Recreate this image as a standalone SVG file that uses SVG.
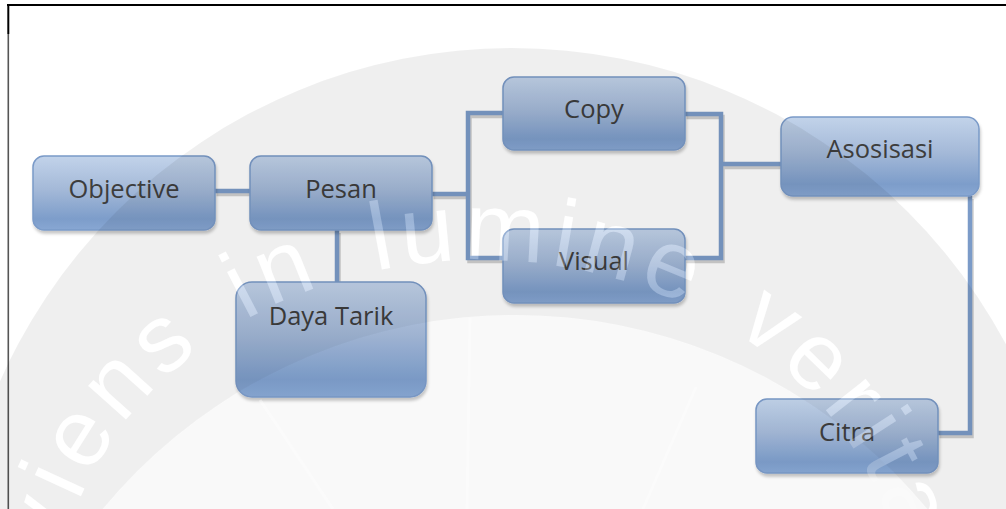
<svg xmlns="http://www.w3.org/2000/svg" xmlns:xlink="http://www.w3.org/1999/xlink" width="1006" height="509" viewBox="0 0 1006 509">
  <style>
    .box { fill: url(#boxFill); stroke: #7a9ac8; stroke-width: 1.5; filter: url(#boxShadow); }
    .label { font-family: "Open Sans", "Liberation Sans", sans-serif; font-size: 25.5px; fill: #3d3d3d; text-anchor: middle; }
    .wire { fill: none; stroke: #7b9bc8; stroke-width: 4.5; stroke-linejoin: miter; stroke-linecap: butt; }
    .wire-shadow { fill: none; stroke: #cfcfcf; stroke-width: 4.5; stroke-linejoin: miter; }
    .motto { font-family: "Liberation Sans", "DejaVu Sans", sans-serif; font-size: 96px; letter-spacing: 7px; }
  </style>
  <defs>
    <linearGradient id="boxFill" x1="0" y1="0" x2="0" y2="1">
      <stop offset="0" stop-color="#c2d3ea"/>
      <stop offset="0.45" stop-color="#a4b9d8"/>
      <stop offset="0.85" stop-color="#7d9dca"/>
      <stop offset="1" stop-color="#88a7d3"/>
    </linearGradient>
    <filter id="boxShadow" x="-10%" y="-10%" width="120%" height="130%">
      <feDropShadow dx="1" dy="3" stdDeviation="1.5" flood-color="#000" flood-opacity="0.22"/>
    </filter>
    <!-- baseline of the seal's motto -->
    <path id="mottoArc" d="M55,620 A425,360 0 0 1 905,620"/>
    <path id="w1" d="M215,191 H250"/>
    <path id="w2" d="M337,230 V282"/>
    <path id="w3" d="M432,194 H468 M503,113 H468 V258 H503"/>
    <path id="w4" d="M685,114 H721 V258 H685 M721,164 H781"/>
    <path id="w5" d="M970,196 V433 H938"/>
    <mask id="bandMask" maskUnits="userSpaceOnUse" x="0" y="0" width="1006" height="509">
      <rect width="1006" height="509" fill="#fff"/>
      <text class="motto" fill="#000">
        <textPath xlink:href="#mottoArc" startOffset="66">viens</textPath>
        <textPath xlink:href="#mottoArc" startOffset="372">in</textPath>
        <textPath xlink:href="#mottoArc" startOffset="512">lumine</textPath>
        <textPath xlink:href="#mottoArc" startOffset="884">veritas</textPath>
      </text>
    </mask>
  </defs>

  <rect width="1006" height="509" fill="#fff"/>

  <!-- page frame -->
  <g id="frame" fill="none">
    <line x1="7" y1="5" x2="1006" y2="5" stroke="#000" stroke-width="2"/>
    <line x1="8.3" y1="4" x2="8.3" y2="34" stroke="#000" stroke-width="2"/>
    <line x1="8.3" y1="34" x2="8.3" y2="509" stroke="#555" stroke-width="1.6"/>
  </g>

  <!-- connectors -->
  <g id="connectors">
    <g transform="translate(1.5,3)">
      <use xlink:href="#w1" class="wire-shadow"/>
      <use xlink:href="#w2" class="wire-shadow"/>
      <use xlink:href="#w3" class="wire-shadow"/>
      <use xlink:href="#w4" class="wire-shadow"/>
      <use xlink:href="#w5" class="wire-shadow"/>
    </g>
    <use xlink:href="#w1" class="wire"/>
    <use xlink:href="#w2" class="wire"/>
    <use xlink:href="#w3" class="wire"/>
    <use xlink:href="#w4" class="wire"/>
    <use xlink:href="#w5" class="wire"/>
  </g>

  <!-- nodes -->
  <g id="objective">
    <rect class="box" x="33" y="156" width="182" height="74" rx="11"/>
    <text class="label" x="124" y="198">Objective</text>
  </g>
  <g id="pesan">
    <rect class="box" x="250" y="156" width="182" height="74" rx="11"/>
    <text class="label" x="341" y="198">Pesan</text>
  </g>
  <g id="daya-tarik">
    <rect class="box" x="236" y="282" width="190" height="115" rx="16"/>
    <text class="label" x="331" y="325">Daya Tarik</text>
  </g>
  <g id="copy">
    <rect class="box" x="503" y="77" width="182" height="73" rx="11"/>
    <text class="label" x="594" y="118">Copy</text>
  </g>
  <g id="visual">
    <rect class="box" x="503" y="229" width="182" height="74" rx="11"/>
    <text class="label" x="594" y="270">Visual</text>
  </g>
  <g id="asosisasi">
    <rect class="box" x="781" y="117" width="198" height="79" rx="12"/>
    <text class="label" x="880" y="158">Asosisasi</text>
  </g>
  <g id="citra">
    <rect class="box" x="756" y="399" width="182" height="74" rx="11"/>
    <text class="label" x="847" y="441">Citra</text>
  </g>

  <!-- translucent seal laid over the page -->
  <g id="seal">
    <circle cx="515" cy="850" r="535" fill="#000" fill-opacity="0.022"/>
    <g stroke="#fff" stroke-opacity="0.35" stroke-width="3">
      <line x1="260" y1="400" x2="333" y2="509"/>
      <line x1="470" y1="318" x2="467" y2="509"/>
      <line x1="696" y1="387" x2="643" y2="509"/>
    </g>
    <path fill="#000" fill-opacity="0.062" fill-rule="evenodd" mask="url(#bandMask)"
          d="M-48,608 a560,560 0 1,0 1120,0 a560,560 0 1,0 -1120,0 Z M-20,850 a535,535 0 1,0 1070,0 a535,535 0 1,0 -1070,0 Z"/>
    <text class="motto" fill="#fff" fill-opacity="0.22">
      <textPath xlink:href="#mottoArc" startOffset="66">viens</textPath>
      <textPath xlink:href="#mottoArc" startOffset="372">in</textPath>
      <textPath xlink:href="#mottoArc" startOffset="512">lumine</textPath>
      <textPath xlink:href="#mottoArc" startOffset="884">veritas</textPath>
    </text>
  </g>
</svg>
